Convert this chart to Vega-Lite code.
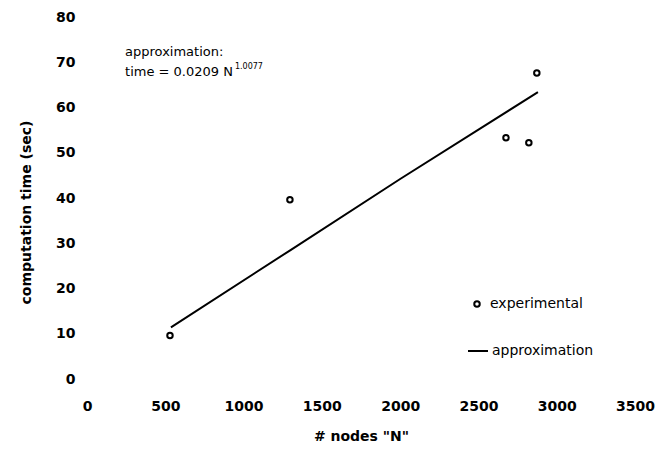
{
  "$schema": "https://vega.github.io/schema/vega-lite/v6.json",
  "width": 548,
  "height": 362,
  "autosize": "none",
  "padding": {"left": 87, "top": 17, "right": 21, "bottom": 73},
  "background": "white",
  "config": {
    "view": {"stroke": null},
    "axis": {
      "grid": false,
      "domain": false,
      "ticks": false,
      "labelFlush": false,
      "labelFont": "DejaVu Sans",
      "labelFontWeight": "bold",
      "labelFontSize": 14,
      "labelColor": "#000000",
      "titleFont": "DejaVu Sans",
      "titleFontSize": 14,
      "titleFontWeight": "bold",
      "titleColor": "#000000"
    },
    "legend": {
      "labelFont": "DejaVu Sans",
      "labelFontSize": 14,
      "labelColor": "#000000",
      "padding": 0
    }
  },
  "datasets": {
    "experimental": [
      {"N": 530, "time": 9.6, "series": "experimental"},
      {"N": 1296, "time": 39.6, "series": "experimental"},
      {"N": 2676, "time": 53.3, "series": "experimental"},
      {"N": 2822, "time": 52.2, "series": "experimental"},
      {"N": 2873, "time": 67.6, "series": "experimental"}
    ],
    "approximation": [
      {"N": 536, "time": 11.4, "series": "approximation"},
      {"N": 1300, "time": 28.5, "series": "approximation"},
      {"N": 2000, "time": 44.2, "series": "approximation"},
      {"N": 2880, "time": 63.4, "series": "approximation"}
    ],
    "notes": [
      {"N": 243, "time": 72.3, "label": "approximation:"},
      {"N": 243, "time": 67.85, "label": "time = 0.0209 N"}
    ],
    "sup": [
      {"N": 945, "time": 68.95, "label": "1.0077"}
    ]
  },
  "layer": [
    {
      "data": {"name": "approximation"},
      "mark": {"type": "line", "color": "#000000", "strokeWidth": 2},
      "encoding": {
        "x": {
          "field": "N", "type": "quantitative",
          "scale": {"domain": [0, 3500], "nice": false, "zero": false},
          "axis": {"values": [0, 500, 1000, 1500, 2000, 2500, 3000, 3500], "format": "d", "title": "# nodes \"N\"", "labelPadding": 20, "titlePadding": 16, "labelFlush": false}
        },
        "y": {
          "field": "time", "type": "quantitative",
          "scale": {"domain": [0, 80], "nice": false},
          "axis": {"values": [0, 10, 20, 30, 40, 50, 60, 70, 80], "format": "d", "title": "computation time (sec)", "labelPadding": 12, "titlePadding": 22, "titleY": 195, "labelFlush": false}
        },
        "color": {
          "field": "series", "type": "nominal",
          "scale": {"domain": ["approximation"], "range": ["#000000"]},
          "legend": {"title": null, "orient": "none", "legendX": 380, "legendY": 323, "symbolType": "stroke", "symbolSize": 400, "symbolStrokeWidth": 2, "labelOffset": 3}
        }
      }
    },
    {
      "data": {"name": "experimental"},
      "mark": {"type": "point", "filled": false, "color": "#000000", "strokeWidth": 2, "size": 30, "opacity": 1},
      "encoding": {
        "x": {"field": "N", "type": "quantitative"},
        "y": {"field": "time", "type": "quantitative"},
        "shape": {
          "field": "series", "type": "nominal",
          "scale": {"domain": ["experimental"], "range": ["circle"]},
          "legend": {
            "title": null, "orient": "none", "legendX": 383, "legendY": 280,
            "symbolSize": 30, "symbolStrokeWidth": 2, "symbolStrokeColor": "#000000", "symbolFillColor": "white", "symbolOpacity": 1, "labelOffset": 6,
            "encode": {"symbols": {"update": {"stroke": {"value": "#000000"}, "strokeWidth": {"value": 2}, "fill": {"value": "white"}, "opacity": {"value": 1}}}}
          }
        }
      }
    },
    {
      "data": {"name": "notes"},
      "mark": {"type": "text", "align": "left", "baseline": "middle", "font": "DejaVu Sans", "fontSize": 13, "color": "#000000"},
      "encoding": {
        "x": {"field": "N", "type": "quantitative"},
        "y": {"field": "time", "type": "quantitative"},
        "text": {"field": "label"}
      }
    },
    {
      "data": {"name": "sup"},
      "mark": {"type": "text", "align": "left", "baseline": "middle", "font": "DejaVu Sans", "fontSize": 8, "color": "#000000"},
      "encoding": {
        "x": {"field": "N", "type": "quantitative"},
        "y": {"field": "time", "type": "quantitative"},
        "text": {"field": "label"}
      }
    }
  ]
}
